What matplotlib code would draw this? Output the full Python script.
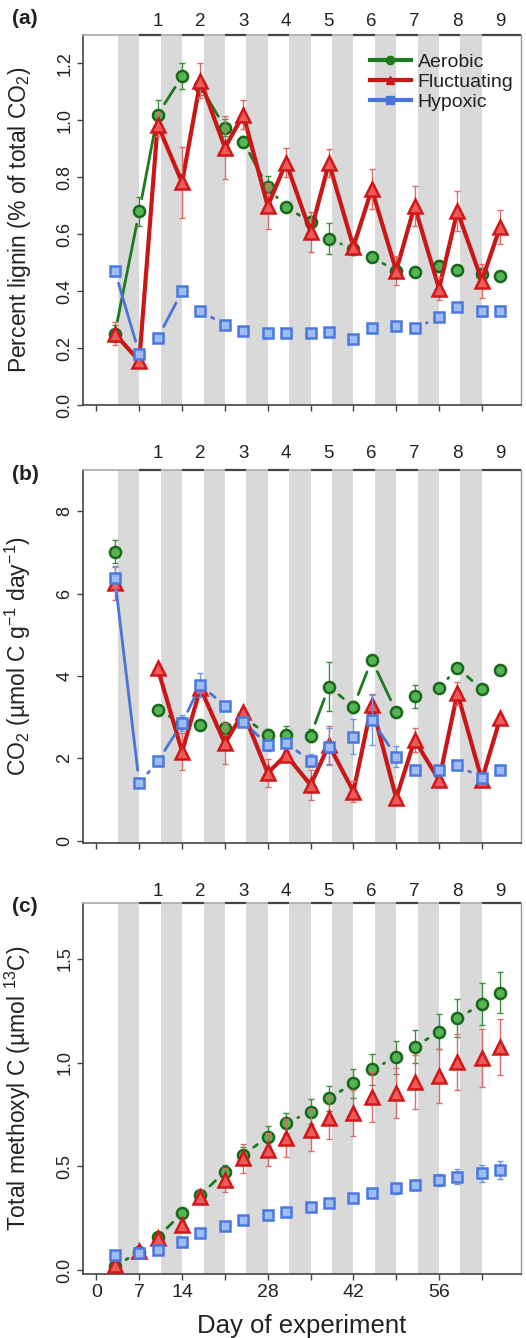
import numpy as np
import matplotlib
matplotlib.use('Agg')
import matplotlib.pyplot as plt
from matplotlib.lines import Line2D

plt.rcParams['font.family'] = ['Liberation Sans', 'DejaVu Sans']
plt.rcParams['mathtext.fontset'] = 'custom'
plt.rcParams['mathtext.rm'] = 'Liberation Sans'
plt.rcParams['mathtext.it'] = 'Liberation Sans:italic'
plt.rcParams['mathtext.default'] = 'regular'

nan = np.nan
days = [3, 7, 10, 14, 17, 21, 24, 28, 31, 35, 38, 42, 45, 49, 52, 56, 59, 63, 66]
cycle_pos = [10, 17, 24, 31, 38, 45, 52, 59, 66]
cycle_labels = ['1', '2', '3', '4', '5', '6', '7', '8', '9']
band_starts = [3.5, 10.5, 17.5, 24.5, 31.5, 38.5, 45.5, 52.5, 59.5]
band_width = 3.5
xtick_pos = [0, 7, 14, 21, 28, 35, 42, 49, 56, 63]
xtick_labels = ['0', '7', '14', '', '28', '', '42', '', '56', '']

# Panel (a): percent lignin
aer_a = [0.25, 0.68, 1.02, 1.155, 1.12, 0.975, 0.925, 0.765, 0.695, 0.643, 0.584, 0.548, 0.521, 0.47, 0.468, 0.49, 0.475, 0.461, 0.454]
aer_a_err = [0.03, 0.05, 0.05, 0.045, 0.03, 0.03, 0.02, 0.04, 0.015, 0.02, 0.055, 0.02, 0.015, 0.02, 0.015, 0.02, 0.015, 0.02, 0.015]
flu_a = [0.25, 0.155, 0.985, 0.782, 1.14, 0.904, 1.02, 0.699, 0.852, 0.607, 0.85, 0.556, 0.758, 0.472, 0.699, 0.409, 0.681, 0.437, 0.626]
flu_a_err = [0.04, 0.02, 0.04, 0.125, 0.06, 0.11, 0.05, 0.08, 0.05, 0.07, 0.05, 0.02, 0.07, 0.05, 0.07, 0.04, 0.07, 0.06, 0.06]
hyp_a = [0.472, 0.18, 0.235, 0.399, 0.332, 0.28, 0.259, 0.252, 0.252, 0.252, 0.256, 0.232, 0.27, 0.277, 0.27, 0.308, 0.346, 0.329, 0.332]
hyp_a_err = [0.012, 0.01, 0.01, 0.012, 0.01, 0.01, 0.01, 0.01, 0.01, 0.01, 0.01, 0.01, 0.01, 0.012, 0.01, 0.012, 0.012, 0.015, 0.015]

# Panel (b): CO2 production
aer_b = [7.02, nan, 3.17, 2.85, 2.81, 2.74, 3.0, 2.57, 2.57, 2.55, 3.74, 3.25, 4.39, 3.13, 3.5, 3.7, 4.19, 3.68, 4.13]
aer_b_err = [0.28, nan, 0.1, 0.1, 0.08, 0.1, 0.1, 0.15, 0.2, 0.15, 0.6, 0.15, 0.1, 0.1, 0.28, 0.1, 0.1, 0.1, 0.1]
flu_b = [6.25, nan, 4.19, 2.16, 3.70, 2.36, 3.11, 1.64, 2.08, 1.35, 2.32, 1.19, 3.30, 1.03, 2.44, 1.47, 3.58, 1.47, 2.97]
flu_b_err = [0.4, nan, 0.1, 0.44, 0.1, 0.5, 0.1, 0.33, 0.1, 0.36, 0.45, 0.25, 0.25, 0.1, 0.3, 0.15, 0.28, 0.15, 0.1]
hyp_b = [6.37, 1.39, 1.92, 2.85, 3.78, 3.27, 2.89, 2.32, 2.36, 1.94, 2.28, 2.52, 2.93, 2.04, 1.72, 1.72, 1.84, 1.51, 1.72]
hyp_b_err = [0.3, 0.1, 0.1, 0.2, 0.3, 0.1, 0.1, 0.15, 0.1, 0.15, 0.45, 0.42, 0.6, 0.25, 0.1, 0.1, 0.1, 0.1, 0.1]

# Panel (c): cumulative methoxyl C
aer_c = [0.02, 0.09, 0.16, 0.275, 0.363, 0.475, 0.555, 0.643, 0.708, 0.763, 0.828, 0.90, 0.967, 1.025, 1.076, 1.148, 1.213, 1.28, 1.336]
aer_c_err = [0.005, 0.01, 0.01, 0.02, 0.02, 0.03, 0.04, 0.05, 0.05, 0.06, 0.06, 0.07, 0.075, 0.08, 0.08, 0.085, 0.09, 0.1, 0.1]
flu_c = [0.025, 0.095, 0.155, 0.219, 0.355, 0.435, 0.54, 0.58, 0.636, 0.675, 0.732, 0.756, 0.836, 0.852, 0.908, 0.935, 1.004, 1.02, 1.076]
flu_c_err = [0.005, 0.01, 0.01, 0.02, 0.03, 0.06, 0.07, 0.08, 0.09, 0.1, 0.1, 0.11, 0.12, 0.12, 0.13, 0.13, 0.135, 0.14, 0.135]
hyp_c = [0.075, 0.083, 0.099, 0.139, 0.179, 0.214, 0.243, 0.267, 0.283, 0.307, 0.323, 0.347, 0.371, 0.395, 0.411, 0.435, 0.451, 0.467, 0.483]
hyp_c_err = [0.005, 0.005, 0.01, 0.01, 0.01, 0.01, 0.015, 0.015, 0.015, 0.015, 0.02, 0.02, 0.02, 0.025, 0.025, 0.03, 0.035, 0.04, 0.045]

series_names = ['Aerobic', 'Fluctuating', 'Hypoxic']
styles = {
    'Aerobic': dict(color='#1e7a1e', lw=2.0, gap=13, marker='o', ms=8, mfc='#56b356', mec='#17691a', err='#3c8e3c', z=3),
    'Fluctuating': dict(color='#c91616', lw=3.0, gap=0, marker='^', ms=10, mfc='#ee5a5a', mec='#d01818', err='#e06a6a', z=4),
    'Hypoxic': dict(color='#4a74d8', lw=2.0, gap=13, marker='s', ms=7.5, mfc='#9fbcf3', mec='#4a78e0', err='#6f92e3', z=5),
}

W, H = 526, 1338
fig = plt.figure(figsize=(W / 100, H / 100), dpi=100)


def make_axes(top, bottom):
    return fig.add_axes([83 / W, 1 - bottom / H, (521 - 83) / W, (bottom - top) / H])


def gapped_line(ax, x, y, gap, **kw):
    """Solid segments between points, with a gap of `gap` pixels around each point."""
    pts = ax.transData.transform(np.column_stack([np.asarray(x, float), np.asarray(y, float)]))
    inv = ax.transData.inverted()
    for k in range(len(x) - 1):
        p1, p2 = pts[k], pts[k + 1]
        if not (np.all(np.isfinite(p1)) and np.all(np.isfinite(p2))):
            continue
        d = p2 - p1
        L = np.hypot(*d)
        if L <= 2 * gap + 0.5:
            continue
        u = d / L
        a, b = inv.transform(np.array([p1 + u * gap, p2 - u * gap]))
        ax.plot([a[0], b[0]], [a[1], b[1]], solid_capstyle='round', **kw)


panels = [
    dict(top=35, bottom=405, ylim=(0.0, 1.30), yticks=[0.0, 0.2, 0.4, 0.6, 0.8, 1.0, 1.2],
         yticklabels=['0.0', '0.2', '0.4', '0.6', '0.8', '1.0', '1.2'],
         ylabel='Percent lignin (% of total CO$_2$)', letter='(a)', letter_y=19, num_off=13,
         data={'Aerobic': (aer_a, aer_a_err), 'Fluctuating': (flu_a, flu_a_err), 'Hypoxic': (hyp_a, hyp_a_err)},
         draw_lines={'Aerobic': True, 'Fluctuating': True, 'Hypoxic': True}),
    dict(top=470, bottom=843, ylim=(-0.06, 9.0), yticks=[0, 2, 4, 6, 8],
         yticklabels=['0', '2', '4', '6', '8'],
         ylabel='CO$_2$ (µmol C g$^{-1}$ day$^{-1}$)', letter='(b)', letter_y=474, num_off=17,
         data={'Aerobic': (aer_b, aer_b_err), 'Fluctuating': (flu_b, flu_b_err), 'Hypoxic': (hyp_b, hyp_b_err)},
         draw_lines={'Aerobic': True, 'Fluctuating': True, 'Hypoxic': True}),
    dict(top=903, bottom=1274, ylim=(-0.017, 1.767), yticks=[0.0, 0.5, 1.0, 1.5],
         yticklabels=['0.0', '0.5', '1.0', '1.5'],
         ylabel='Total methoxyl C (µmol $^{13}$C)', letter='(c)', letter_y=906, num_off=12,
         data={'Aerobic': (aer_c, aer_c_err), 'Fluctuating': (flu_c, flu_c_err), 'Hypoxic': (hyp_c, hyp_c_err)},
         draw_lines={'Aerobic': True, 'Fluctuating': False, 'Hypoxic': True}),
]

XLIM = (-2.2, 69.4)

for i, p in enumerate(panels):
    ax = make_axes(p['top'], p['bottom'])
    ax.set_xlim(*XLIM)
    ax.set_ylim(*p['ylim'])
    for s in band_starts:
        ax.axvspan(s, s + band_width, color='#d9d9d9', lw=0, zorder=0)

    for name in series_names:
        st = styles[name]
        y, e = p['data'][name]
        if p['draw_lines'][name]:
            if st['gap'] > 0:
                gapped_line(ax, days, y, st['gap'], color=st['color'], lw=st['lw'], zorder=st['z'])
            else:
                ax.plot(days, y, color=st['color'], lw=st['lw'], zorder=st['z'])
        ax.errorbar(days, y, yerr=e, fmt='none', ecolor=st['err'], elinewidth=1.0,
                    capsize=2.5, capthick=1.0, zorder=st['z'] + 0.1)
        ax.plot(days, y, ls='none', marker=st['marker'], ms=st['ms'], mfc=st['mfc'],
                mec=st['mec'], mew=1.8, zorder=st['z'] + 0.2)

    # axes styling
    for side in ['left', 'bottom']:
        ax.spines[side].set_color('#444444')
        ax.spines[side].set_linewidth(1.2)
    ax.spines['right'].set_color('#999999')
    ax.spines['right'].set_linewidth(1.0)
    ax.spines['top'].set_color('#aaaaaa')
    ax.spines['top'].set_linewidth(1.2)
    # darker segments on top border over oxic intervals
    for s in [7, 14, 21, 28, 35, 42, 49, 56]:
        ax.plot([s, s + 3.5], [1, 1], transform=ax.get_xaxis_transform(), color='#444444',
                lw=1.6, clip_on=False, zorder=10, solid_capstyle='butt')
    ax.plot([63, XLIM[1]], [1, 1], transform=ax.get_xaxis_transform(), color='#444444',
            lw=1.6, clip_on=False, zorder=10, solid_capstyle='butt')

    ax.set_yticks(p['yticks'])
    ax.set_yticklabels(p['yticklabels'], rotation=90, va='center', ha='center')
    ax.tick_params(axis='y', length=4.5, width=1.0, color='#444444', pad=8.5,
                   labelsize=13, labelcolor='#222222')
    ax.set_xticks(xtick_pos)
    if i == 2:
        ax.set_xticklabels(xtick_labels)
        ax.set_xlabel('Day of experiment', fontsize=18.5, color='#222222', labelpad=9)
    else:
        ax.set_xticklabels([])
    ax.tick_params(axis='x', length=4.5, width=1.0, color='#444444', pad=3,
                   labelsize=14, labelcolor='#222222')

    ax.set_ylabel(p['ylabel'], fontsize=16.5, color='#222222')
    ax.yaxis.set_label_coords((33 - 83) / 438, 0.5)

    # cycle numbers above
    for xp, lab in zip(cycle_pos, cycle_labels):
        ax.annotate(lab, xy=(xp, 1), xycoords=('data', 'axes fraction'),
                    xytext=(0, p['num_off'] * 0.72), textcoords='offset points',
                    ha='center', va='center', fontsize=13.5, color='#222222')
    fig.text(12 / W, 1 - p['letter_y'] / H, p['letter'], fontsize=15, fontweight='bold',
             ha='left', va='center', color='#222222')

    if i == 0:
        handles = [Line2D([0], [0], color=styles[n]['color'], lw=3, marker=styles[n]['marker'],
                          ms=6, mfc=styles[n]['color'], mec=styles[n]['color']) for n in series_names]
        leg = ax.legend(handles, series_names, loc='upper left', bbox_to_anchor=(0.655, 0.95),
                        frameon=False, fontsize=14, handlelength=2.1, handletextpad=0.35,
                        labelspacing=0.12, borderpad=0.0, borderaxespad=0.0)
        for t in leg.get_texts():
            t.set_color('#222222')

fig.savefig('out.png', dpi=100)
